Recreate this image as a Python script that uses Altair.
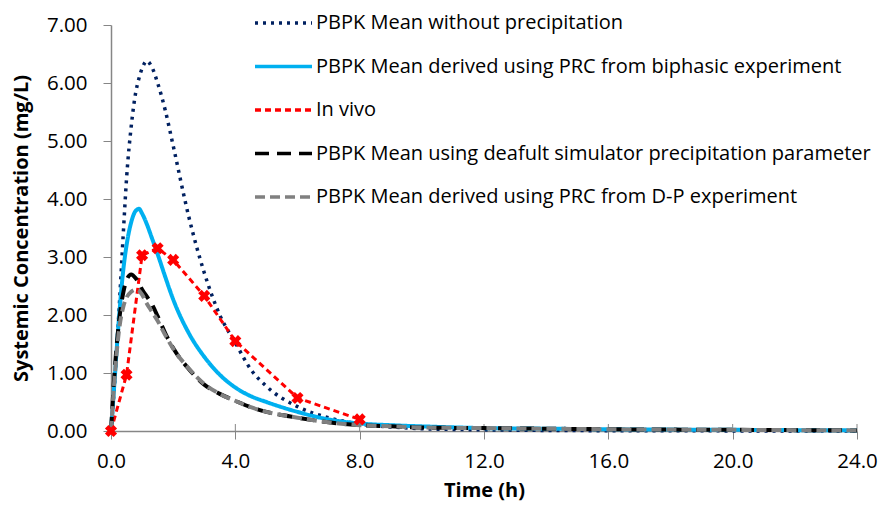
import altair as alt
import pandas as pd

# ---- data ----
time_h = [0, 0.1, 0.25, 0.4, 0.5, 0.65, 0.8, 0.9, 1.0, 1.15, 1.3, 1.5, 1.75, 2.0, 2.5,
          3.0, 3.5, 4.0, 4.5, 5.0, 6.0, 7.0, 8.0, 9.0, 10.0, 12.0, 14.0, 16.0, 20.0, 24.0]
no_precip = [0, 0.7, 2.0, 3.45, 4.35, 5.25, 5.85, 6.08, 6.25, 6.38, 6.29, 6.0, 5.52, 4.92, 3.7,
             2.73, 2.0, 1.52, 1.06, 0.77, 0.42, 0.23, 0.12, 0.07, 0.04, 0.02, 0.01, 0.005, 0.002, 0.0]
biphasic = [0, 0.75, 1.9, 2.8, 3.2, 3.6, 3.8, 3.83, 3.75, 3.57, 3.35, 3.05, 2.65, 2.27, 1.69,
            1.28, 0.97, 0.75, 0.6, 0.5, 0.33, 0.2, 0.13, 0.1, 0.08, 0.05, 0.04, 0.03, 0.02, 0.01]
default_sim = [0, 0.9, 1.85, 2.4, 2.6, 2.7, 2.63, 2.55, 2.44, 2.32, 2.2, 1.98, 1.68, 1.43, 1.07,
               0.8, 0.64, 0.52, 0.41, 0.33, 0.23, 0.15, 0.1, 0.08, 0.06, 0.05, 0.04, 0.03, 0.02, 0.01]
dp_exp = [0, 0.8, 1.7, 2.15, 2.3, 2.4, 2.44, 2.42, 2.35, 2.2, 2.07, 1.9, 1.65, 1.42, 1.08,
          0.81, 0.64, 0.52, 0.41, 0.33, 0.23, 0.15, 0.1, 0.08, 0.06, 0.05, 0.04, 0.03, 0.02, 0.01]
invivo_time = [0, 0.5, 1, 1.5, 2, 3, 4, 6, 8]
invivo_conc = [0, 0.97, 3.03, 3.15, 2.95, 2.33, 1.55, 0.57, 0.2]

series_names = [
    "PBPK Mean without precipitation",
    "PBPK Mean derived using PRC from biphasic experiment",
    "In vivo",
    "PBPK Mean using deafult simulator precipitation parameter",
    "PBPK Mean derived using PRC from D-P experiment",
]
series_colors = ["#002060", "#00B0F0", "#FF0000", "#000000", "#808080"]
series_dashes = [[3, 5], [1, 0], [6, 4], [14, 8], [10, 5]]
series_widths = [3.5, 4, 3, 4, 4]
x_ticks = [0, 4, 8, 12, 16, 20, 24]
y_ticks = [0, 1, 2, 3, 4, 5, 6, 7]

# ---- build table ----
rows = []
for name, vals in zip([series_names[0], series_names[1], series_names[3], series_names[4]],
                      [no_precip, biphasic, default_sim, dp_exp]):
    for t, c in zip(time_h, vals):
        rows.append({"series": name, "t": t, "c": c})
for t, c in zip(invivo_time, invivo_conc):
    rows.append({"series": series_names[2], "t": t, "c": c})
df = pd.DataFrame(rows)
invivo_df = pd.DataFrame({"t": invivo_time, "c": invivo_conc})
ticks_df = pd.DataFrame({"t": x_ticks})

X = alt.X("t:Q", scale=alt.Scale(domain=[0, 24], nice=False, zero=False),
          axis=alt.Axis(values=x_ticks, format=".1f", title="Time (h)", labelFlush=False,
                        labelPadding=12, titlePadding=9, tickSize=8))
Y = alt.Y("c:Q", scale=alt.Scale(domain=[0, 7], nice=False),
          axis=alt.Axis(values=y_ticks, format=".2f", title="Systemic Concentration (mg/L)",
                        labelPadding=16, titlePadding=15, tickSize=8))

legend = alt.Legend(
    title=None, orient="none", legendX=142, legendY=-14,
    symbolType="stroke", symbolSize=3249, symbolStrokeWidth=3.5,
    labelFont="Open Sans", labelFontSize=20, labelColor="#000000",
    labelOffset=2, labelLimit=700, rowPadding=19.5, clipHeight=24, padding=0,
)
color_enc = alt.Color("series:N", scale=alt.Scale(domain=series_names, range=series_colors),
                      legend=legend, sort=series_names)
dash_enc = alt.StrokeDash("series:N", scale=alt.Scale(domain=series_names, range=series_dashes),
                          legend=legend, sort=series_names)

layers = []
layers.append(
    alt.Chart(ticks_df).mark_rule(color="#868686", strokeWidth=1).encode(
        x=X, y=alt.value(399), y2=alt.value(406))
)
for i, name in enumerate(series_names):
    interp = "linear" if name == "In vivo" else "monotone"
    layers.append(
        alt.Chart(df).transform_filter(alt.datum.series == name)
        .mark_line(strokeWidth=series_widths[i], interpolate=interp)
        .encode(x=X, y=Y, color=color_enc, strokeDash=dash_enc)
    )
layers.append(
    alt.Chart(invivo_df).mark_point(shape="cross", angle=45, filled=True, color="#FF0000",
                                    size=150, opacity=1).encode(x=X, y=Y)
)

chart = (
    alt.layer(*layers)
    .properties(width=746, height=406,
                padding={"left": 103, "top": 17, "right": 21, "bottom": 71},
                autosize=alt.AutoSizeParams(type="none"))
    .configure_view(stroke=None)
    .configure_axis(
        grid=False, domainColor="#868686", domainWidth=1.5, tickColor="#868686",
        labelFont="Open Sans", labelFontSize=20.5, labelColor="#000000",
        titleFont="Open Sans", titleFontSize=20, titleFontWeight="bold", titleColor="#000000",
    )
)

chart.save("out.html", embed_options={"renderer": "svg", "actions": False})
